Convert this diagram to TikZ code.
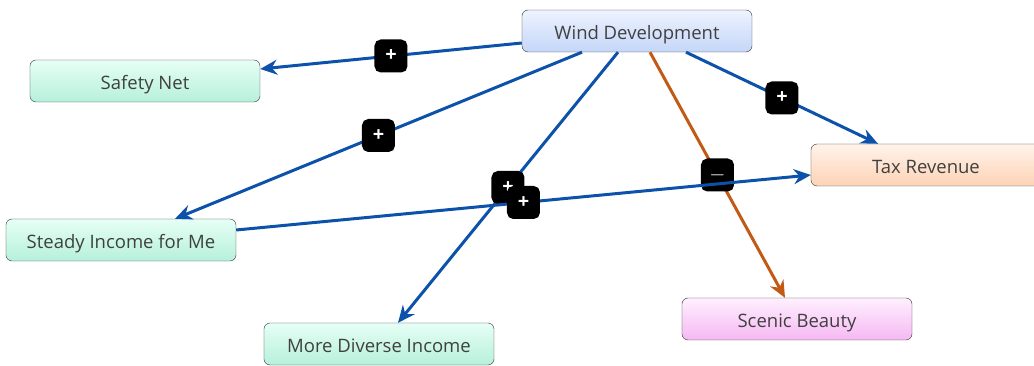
\documentclass[tikz,border=0pt]{standalone}
\usepackage{fontspec}
\setmainfont{Open Sans}
\usepackage{xcolor}
\usetikzlibrary{arrows.meta}
\definecolor{linkblue}{HTML}{0D52AA}
\definecolor{linkorange}{HTML}{C25A16}
\definecolor{txtgray}{HTML}{404040}
\definecolor{windtop}{HTML}{EEF3FF}
\definecolor{windbot}{HTML}{C4D6F8}
\definecolor{greentop}{HTML}{E6FFF6}
\definecolor{greenbot}{HTML}{B6F0DA}
\definecolor{taxtop}{HTML}{FFF3EA}
\definecolor{taxbot}{HTML}{FDD3B5}
\definecolor{scenictop}{HTML}{FFF0FF}
\definecolor{scenicbot}{HTML}{F5B8F2}

\tikzset{
  concept/.style={draw=black!80, shape=rectangle, rounded corners=6pt, minimum width=230pt, minimum height=42pt, text=txtgray, font=\fontsize{18.5}{22}\selectfont, text height=20pt, text depth=2pt},
  plus/.style={draw=black, fill=black, rounded corners=5pt, minimum size=30pt, inner sep=0pt, text=white, font=\fontsize{20}{20}\selectfont\bfseries},
  link/.style={-{Stealth[length=17pt,width=15pt]}, line width=3pt, draw=linkblue},
}

\begin{document}
\begin{tikzpicture}
\useasboundingbox (-637pt,31pt) rectangle (397pt,-335pt);
\node[concept, top color=windtop, bottom color=windbot] (wind) {Wind Development};
\node[concept, top color=greentop, bottom color=greenbot, left of=wind, node distance=492pt, yshift=-50pt] (safety) {Safety Net};
\node[concept, top color=greentop, bottom color=greenbot, below of=wind, node distance=209pt, xshift=-516pt] (steady) {Steady Income for Me};
\node[concept, top color=greentop, bottom color=greenbot, below of=wind, node distance=313pt, xshift=-258pt] (diverse) {More Diverse Income};
\node[concept, top color=taxtop, bottom color=taxbot, below of=wind, node distance=134pt, xshift=289pt] (tax) {Tax Revenue};
\node[concept, top color=scenictop, bottom color=scenicbot, below of=wind, node distance=288pt, xshift=160pt] (scenic) {Scenic Beauty};
\draw[link] ([yshift=-12pt] wind.west) -- node[plus] {+} ([yshift=12pt] safety.east);
\draw[link] ([xshift=-55pt] wind.south) -- node[plus] {+} ([xshift=54pt] steady.north);
\draw[link] ([xshift=-19pt] wind.south) -- node[plus] {+} ([xshift=19pt] diverse.north);
\draw[link] ([xshift=49pt] wind.south) -- node[plus] {+} ([xshift=-48pt] tax.north);
\draw[link, draw=linkorange] ([xshift=13pt] wind.south) -- node[plus] {$-$} ([xshift=-12pt] scenic.north);
\draw[link] ([yshift=10pt] steady.east) -- node[plus] {+} ([yshift=-10pt] tax.west);
\end{tikzpicture}
\end{document}
